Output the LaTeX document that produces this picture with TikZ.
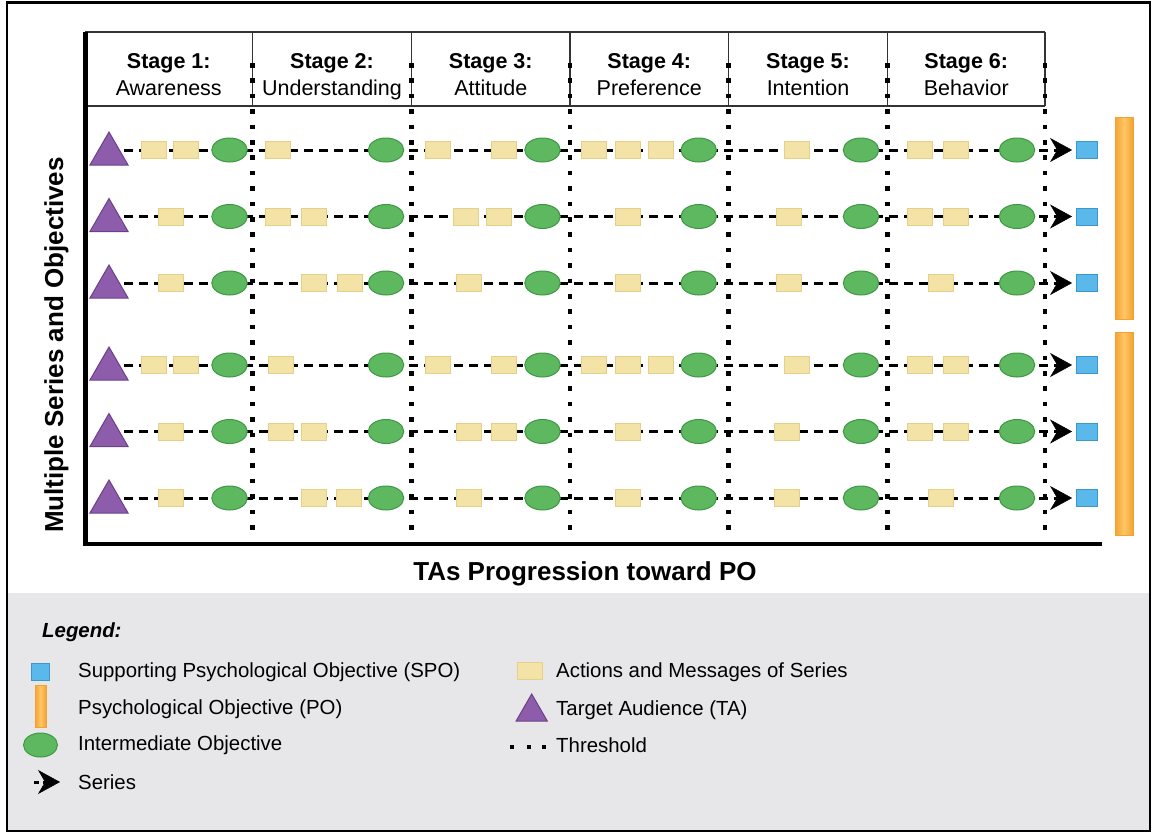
\documentclass[tikz,border=0pt]{standalone}
\usepackage{fontspec}
\setmainfont{Liberation Sans}
\usetikzlibrary{arrows.meta,shapes.geometric,backgrounds,calc}
\definecolor{tafill}{HTML}{8D5CAB}
\definecolor{taline}{HTML}{6C4088}
\definecolor{actfill}{HTML}{F3E3A6}
\definecolor{actline}{HTML}{E4D089}
\definecolor{iofill}{HTML}{5DB860}
\definecolor{ioline}{HTML}{3F9844}
\definecolor{spofill}{HTML}{5BB8EA}
\definecolor{spoline}{HTML}{3A97D0}
\definecolor{poedge}{HTML}{F5A231}
\definecolor{pomid}{HTML}{FDC766}
\definecolor{legbg}{HTML}{E7E7E9}
\definecolor{hdrline}{HTML}{333333}
\begin{document}
\begin{tikzpicture}[x=1pt,y=-1pt,
  ta/.style={regular polygon, regular polygon sides=3, minimum size=44pt, inner sep=0pt,
    fill=tafill, draw=taline, line width=1pt},
  act/.style={rectangle, minimum width=25pt, minimum height=17pt, inner sep=0pt,
    fill=actfill, draw=actline, line width=0.8pt},
  io/.style={ellipse, minimum width=35.5pt, minimum height=24pt, inner sep=0pt,
    fill=iofill, draw=ioline, line width=1pt},
  spo/.style={rectangle, minimum width=21pt, minimum height=17pt, inner sep=0pt,
    fill=spofill, draw=spoline, line width=0.8pt},
  po/.style={rectangle, inner sep=0pt, left color=poedge, right color=poedge,
    middle color=pomid, draw=poedge, line width=1pt},
  series/.style={line width=3pt, dash pattern=on 9pt off 6pt, shorten >=3.5pt,
    -{Stealth[length=22pt,width=24pt,inset=7pt,line width=0.5pt]}},
  thresh/.style={line width=4.5pt, dash pattern=on 4.5pt off 10.9pt},
  hdr/.style={line width=1.4pt, draw=hdrline},
  stagehd/.style={font=\fontsize{21.5}{24}\selectfont\bfseries, anchor=base, inner sep=0pt},
  stagenm/.style={font=\fontsize{21.5}{24}\selectfont, anchor=base, inner sep=0pt},
  axlabel/.style={font=\fontsize{26}{30}\selectfont\bfseries, inner sep=0pt},
  legtext/.style={font=\fontsize{20.4}{24}\selectfont, anchor=west, inner sep=0pt}
]
\useasboundingbox (0,0) rectangle (1152,833);
% legend background and frame
\fill[legbg] (7,593) rectangle (1150,831);
\draw[line width=2.5pt] (7,2.5) rectangle (1150,831);

% header
\draw[hdr] (85,32) -- (1045,32);
\draw[hdr] (85,106) -- (1045,106);
\foreach \xb in {252.5,411.5,570,728.5,887.5,1045}
  \draw[hdr] (\xb,32) -- (\xb,106);
\foreach \k/\xc/\nm in {1/168.75/Awareness,2/332/Understanding,3/490.75/Attitude,
                        4/649.25/Preference,5/808/Intention,6/966.25/Behavior} {
  \node[stagehd] (sh\k) at (\xc,68) {Stage \k:};
  \node[stagenm] (sn\k) at (\xc,95) {\nm};
}

% thresholds
\foreach \xb in {252.5,411.5,570,728.5,887.5,1045}
  \draw[thresh] (\xb,63) -- (\xb,535);

% axes
\draw[line width=5pt] (85,32) -- (85,545.5);
\draw[line width=4pt] (82.5,543.5) -- (1102,543.5);
\node[axlabel, anchor=base] (xlab) at (585,580) {TAs Progression toward PO};
\node[axlabel, anchor=base, rotate=90] (ylab) at (63,345) {Multiple Series and Objectives};

% rows
\foreach \r/\y/\xs in {
  1/150/{153.5,186,278,437.5,504,594,627.5,661,796.5,920,956},
  2/216.5/{171,278,314,466,499,627.5,789,920,956},
  3/283/{171,314,350,468.5,627.5,789,941},
  4/365/{153.5,186,281,437.5,504,594,627.5,661,796.5,920,956},
  5/431.5/{171,281,314,468.5,504,627.5,786.5,920,956},
  6/498/{171,314,348.5,468.5,627.5,786.5,941}} {
  \node[ta] (t\r) at (109,\y+4) {};
  \node[spo] (s\r) at (1086.5,\y) {};
  \foreach \x [count=\k] in \xs
    \node[act] (a\r-\k) at (\x,\y) {};
  \foreach \x [count=\k] in {229.5,386,542.5,698.7,861,1017}
    \node[io] (e\r-\k) at (\x,\y) {};
}
\begin{scope}[on background layer]
  \foreach \r in {1,...,6}
    \draw[series] (t\r.center |- s\r.west) -- (s\r.west);
\end{scope}

% psychological objectives
\node[po, minimum width=18pt, minimum height=202pt] (po1) at (1124,218) {};
\node[po, minimum width=18pt, minimum height=203pt] (po2) at (1124,433.5) {};

% legend
\node[font=\fontsize{20.4}{24}\selectfont\bfseries\itshape, anchor=west, inner sep=0pt] (legtitle) at (42,632) {Legend:};
\node[spo, minimum width=18pt] (lspo) at (40,672) {};
\node[legtext] (lspot) at (78,672) {Supporting Psychological Objective (SPO)};
\node[po, minimum width=11pt, minimum height=42pt] (lpo) at (40.5,706) {};
\node[legtext] (lpot) at (78,709) {Psychological Objective (PO)};
\node[io, minimum width=34pt] (lio) at (40.5,745) {};
\node[legtext] (liot) at (78,745) {Intermediate Objective};
\coordinate (lsa) at (34,782);
\coordinate (lsb) at (60,782);
\draw[series, shorten >=0pt, dash pattern=on 5pt off 4pt] (lsa) -- (lsb);
\node[legtext] (lsert) at (78,782) {Series};

\node[act] (lact) at (529.5,671) {};
\node[legtext] (lactt) at (556,672) {Actions and Messages of Series};
\node[ta, minimum size=36pt] (lta) at (531.7,712) {};
\node[legtext] (ltat) at (556,710) {Target Audience (TA)};
\foreach \xd [count=\k] in {512,528.5,544}
  \fill (\xd-2,744.7) rectangle (\xd+2,748.7);
\node[legtext] (ltht) at (556,745) {Threshold};
\end{tikzpicture}
\end{document}
